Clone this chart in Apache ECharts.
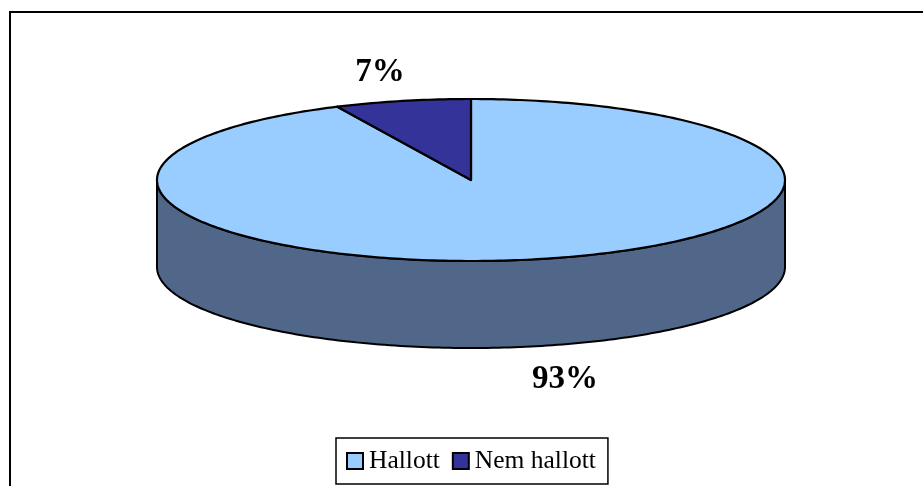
<!DOCTYPE html>
<html>
<head>
<meta charset="utf-8">
<title>Hallott / Nem hallott</title>
<style>
  html, body { margin: 0; padding: 0; background: #fff; }
  #chart { width: 923px; height: 486px; }
</style>
<script src="https://cdn.jsdelivr.net/npm/echarts@6/dist/echarts.min.js"></script>
</head>
<body>
<div id="chart"></div>
<script>
const categories = ['Hallott', 'Nem hallott']
const values = [93, 7]
const labels = ['93%', '7%']
const colors = ['#99ccff', '#333399']
const wallColor = '#50678a'

const chart = echarts.init(document.getElementById('chart'))

// the pie is a tilted disc, so the ellipse is worked out here
const cx = 471
const cy = 180
const rx = 314
const ry = 81
const depth = 87
const total = values.reduce((a, b) => a + b, 0)

const ellipsePoint = (deg, dy) => {
  const r = deg * Math.PI / 180
  return [cx + rx * Math.sin(r), cy - ry * Math.cos(r) + (dy || 0)]
}

const arcPoints = (from, to, dy) => {
  const pts = []
  const steps = Math.max(2, Math.ceil(Math.abs(to - from)))
  for (let i = 0; i <= steps; i++) {
    pts.push(ellipsePoint(from + (to - from) * i / steps, dy))
  }
  return pts
}

const lineStyle = { stroke: '#000', lineWidth: 2.2, lineJoin: 'round' }

const makeRender = index => (params, api) => {
  const value = api.value(0)
  const before = values.slice(0, index).reduce((a, b) => a + b, 0)
  const start = before / total * 360
  const end = start + value / total * 360
  const children = []

  // side wall, only the front half of the disc shows
  const wallFrom = Math.max(start, 90)
  const wallTo = Math.min(end, 270)
  if (wallTo > wallFrom) {
    const top = arcPoints(wallFrom, wallTo, 0)
    const bottom = arcPoints(wallTo, wallFrom, depth)
    children.push({
      type: 'polygon',
      z2: 1,
      shape: { points: top.concat(bottom) },
      style: { fill: wallColor, stroke: '#000', lineWidth: 2, lineJoin: 'round' }
    })
  }

  children.push({
    type: 'polygon',
    z2: 2,
    shape: { points: [[cx, cy]].concat(arcPoints(start, end, 0)) },
    style: { fill: colors[index], ...lineStyle }
  })

  return { type: 'group', children }
}

const labelPos = [[565, 379], [380, 72]]

const option = {
  backgroundColor: '#fff',
  animation: false,
  textStyle: { fontFamily: 'Liberation Serif' },
  xAxis: { show: false },
  yAxis: { show: false },
  grid: { left: 0, right: 0, top: 0, bottom: 0 },
  legend: {
    data: categories,
    left: 336,
    top: 438,
    padding: [10, 12, 10, 10],
    itemGap: 12,
    itemWidth: 16,
    itemHeight: 16,
    icon: 'rect',
    borderColor: '#000',
    borderWidth: 1.5,
    backgroundColor: '#fff',
    textStyle: { fontFamily: 'Liberation Serif', fontSize: 25.5, color: '#000', padding: [0, 0, 0, 1] }
  },
  // the frame runs past the right and bottom of the picture
  graphic: [{
    type: 'rect',
    silent: true,
    z: -1,
    shape: { x: 10, y: 12, width: 930, height: 490 },
    style: { fill: 'none', stroke: '#000', lineWidth: 2 }
  }],
  series: categories.map((name, i) => ({
    name,
    type: 'custom',
    coordinateSystem: 'none',
    data: [values[i]],
    itemStyle: { color: colors[i], borderColor: '#000', borderWidth: 2 },
    renderItem: makeRender(i),
    silent: true,
    label: { show: false },
    z: 2
  })).concat([{
    name: 'labels',
    type: 'custom',
    coordinateSystem: 'none',
    data: labels,
    silent: true,
    z: 3,
    renderItem: (params, api) => ({
      type: 'text',
      style: {
        text: labels[params.dataIndex],
        x: labelPos[params.dataIndex][0],
        y: labelPos[params.dataIndex][1],
        align: 'center',
        verticalAlign: 'middle',
        fill: '#000',
        font: 'bold 33px "Liberation Serif"'
      }
    })
  }])
}

chart.setOption(option)
</script>
</body>
</html>
